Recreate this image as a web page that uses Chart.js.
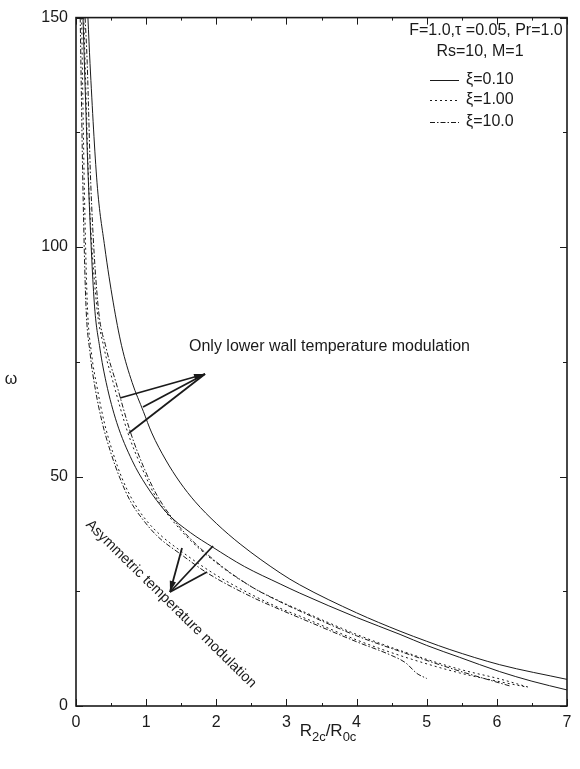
<!DOCTYPE html>
<html>
<head>
<meta charset="utf-8">
<script src="https://cdn.jsdelivr.net/npm/chart.js@4.4.1/dist/chart.umd.min.js"></script>
<style>
  html, body { margin: 0; padding: 0; background: #fff; }
  #wrap { width: 580px; height: 769px; }
</style>
</head>
<body>
<div id="wrap"><canvas id="omegaChart" width="580" height="769"></canvas></div>
<script>
// axis ticks
const xTicks = [0, 1, 2, 3, 4, 5, 6, 7];
const yTicks = [0, 50, 100, 150];

// only lower wall temperature modulation
const lowerSolidX = [0.17, 0.20, 0.30, 0.41, 0.53, 0.65, 0.80, 0.96, 1.08, 1.28, 1.48, 1.70, 2.00, 2.34, 2.91, 3.19, 4.00, 4.62, 5.00, 5.33, 6.04, 7.00];
const lowerSolidY = [150, 140, 114, 100, 88, 78.5, 70.5, 64.2, 59.5, 53.6, 48.8, 44.5, 39.8, 35.3, 29.0, 26.4, 20.3, 16.3, 14.1, 12.3, 9.0, 5.8];
const lowerDotX = [0.11, 0.13, 0.18, 0.29, 0.40, 0.53, 0.74, 0.95, 1.14, 1.50, 2.00, 2.50, 2.91, 3.19, 4.00, 4.62, 5.47, 6.04, 6.45];
const lowerDotY = [150, 140, 114, 88, 78, 70.5, 59.5, 51.5, 45.5, 38.2, 31.2, 26.0, 22.8, 20.9, 15.6, 12.1, 8.0, 5.9, 4.1];
const lowerDashDotX = [0.13, 0.16, 0.21, 0.31, 0.43, 0.57, 0.78, 0.98, 1.17, 1.50, 2.00, 2.50, 2.91, 3.19, 4.00, 4.62, 5.47, 6.20];
const lowerDashDotY = [150, 140, 114, 88, 78, 70.5, 59.5, 51.5, 45.5, 38.6, 31.4, 26.0, 22.7, 20.7, 15.3, 11.9, 7.6, 4.3];

// asymmetric temperature modulation
const asymSolidX = [0.10, 0.13, 0.18, 0.26, 0.34, 0.43, 0.58, 0.80, 1.00, 1.30, 1.63, 1.95, 2.40, 2.91, 3.19, 4.00, 4.62, 5.00, 5.47, 6.04, 6.50, 7.00];
const asymSolidY = [150, 135, 113, 88, 78, 70.5, 61.8, 53.5, 48.1, 42.0, 37.8, 34.6, 30.4, 26.6, 24.6, 19.3, 15.6, 13.2, 10.6, 7.5, 5.4, 3.5];
const asymDotX = [0.08, 0.10, 0.12, 0.16, 0.22, 0.30, 0.40, 0.52, 0.66, 0.82, 1.00, 1.20, 1.51, 2.00, 2.50, 2.91, 3.19, 4.00, 4.62, 5.47, 6.04, 6.40];
const asymDotY = [150, 130, 112, 88, 77, 69.5, 62, 55.5, 49.5, 44.5, 40.5, 37.3, 33.6, 28.5, 24.3, 21.3, 19.6, 14.4, 11.0, 7.2, 5.3, 4.2];
const asymDashDotX = [0.06, 0.08, 0.10, 0.14, 0.20, 0.27, 0.37, 0.49, 0.63, 0.78, 0.96, 1.16, 1.50, 1.87, 2.50, 2.91, 3.19, 4.00, 4.50, 4.70, 4.86, 5.00];
const asymDashDotY = [150, 130, 112, 88, 77, 69.5, 62, 55.5, 49.5, 44.5, 40.5, 37.0, 33.0, 29.0, 23.8, 21.0, 19.2, 14.0, 11.0, 9.4, 7.1, 6.0];

const legendLabels = ['\u03BE=0.10', '\u03BE=1.00', '\u03BE=10.0'];

const SOLID = [];
const DOTTED = [2, 3];
const DASHDOT = [5, 2, 1.5, 2];
const INK = '#1a1a1a';
const FONT = '"Liberation Sans", Arial, Helvetica, sans-serif';

function pts(xs, ys) {
  return xs.map((x, i) => ({ x: x, y: ys[i] }));
}

function curve(xs, ys, dash) {
  return {
    data: pts(xs, ys),
    showLine: true,
    borderColor: INK,
    borderWidth: 1,
    borderDash: dash,
    pointRadius: 0,
    cubicInterpolationMode: 'monotone',
    fill: false,
  };
}

function arrowHead(ctx, fx, fy, tx, ty) {
  const a = Math.atan2(ty - fy, tx - fx);
  const len = 11, w = 3.2;
  ctx.beginPath();
  ctx.moveTo(tx, ty);
  ctx.lineTo(tx - len * Math.cos(a) + w * Math.sin(a), ty - len * Math.sin(a) - w * Math.cos(a));
  ctx.lineTo(tx - len * Math.cos(a) - w * Math.sin(a), ty - len * Math.sin(a) + w * Math.cos(a));
  ctx.closePath();
  ctx.fill();
}

function arrowBundle(ctx, tip, tails) {
  ctx.lineWidth = 1.8;
  tails.forEach(t => {
    ctx.beginPath();
    ctx.moveTo(t[0], t[1]);
    ctx.lineTo(tip[0], tip[1]);
    ctx.stroke();
  });
  arrowHead(ctx, tails[0][0], tails[0][1], tip[0], tip[1]);
}

// frame, inward ticks, titles, key and annotations
const decorations = {
  id: 'decorations',
  afterDraw(chart) {
    const ctx = chart.ctx;
    const a = chart.chartArea;
    const xs = chart.scales.x, ys = chart.scales.y;
    ctx.save();
    ctx.strokeStyle = INK;
    ctx.fillStyle = INK;
    ctx.setLineDash([]);

    ctx.lineWidth = 1.6;
    ctx.strokeRect(a.left, a.top, a.right - a.left, a.bottom - a.top);

    ctx.lineWidth = 1;
    ctx.beginPath();
    for (let v = 0; v <= 7; v += 0.5) {
      const px = Math.round(xs.getPixelForValue(v)) + 0.5;
      const len = Number.isInteger(v) ? 7 : 3;
      ctx.moveTo(px, a.bottom); ctx.lineTo(px, a.bottom - len);
      ctx.moveTo(px, a.top); ctx.lineTo(px, a.top + len);
    }
    for (let v = 0; v <= 150; v += 25) {
      const py = Math.round(ys.getPixelForValue(v)) + 0.5;
      const len = v % 50 === 0 ? 7 : 4;
      ctx.moveTo(a.left, py); ctx.lineTo(a.left + len, py);
      ctx.moveTo(a.right, py); ctx.lineTo(a.right - len, py);
    }
    ctx.stroke();

    // axis titles
    ctx.textBaseline = 'alphabetic';
    ctx.textAlign = 'left';
    const big = '17px ' + FONT, small = '13px ' + FONT;
    const parts = [['R', big, 0], ['2c', small, 5], ['/R', big, 0], ['0c', small, 5]];
    let w = 0;
    parts.forEach(p => { ctx.font = p[1]; w += ctx.measureText(p[0]).width; });
    let cx = 328 - w / 2;
    parts.forEach(p => {
      ctx.font = p[1];
      ctx.fillText(p[0], cx, 736 + p[2]);
      cx += ctx.measureText(p[0]).width;
    });
    ctx.font = '16px ' + FONT;
    ctx.textAlign = 'center';
    ctx.fillText('\u03C9', 11, 384);

    // parameter block and line key
    ctx.font = '16px ' + FONT;
    ctx.textBaseline = 'middle';
    ctx.fillText('F=1.0,\u03C4 =0.05, Pr=1.0', 486, 31);
    ctx.fillText('Rs=10, M=1', 480, 52);
    const dashes = [SOLID, DOTTED, DASHDOT];
    const rows = [80, 100, 122];
    ctx.textAlign = 'left';
    rows.forEach((ry, i) => {
      ctx.lineWidth = 1;
      ctx.setLineDash(dashes[i]);
      ctx.beginPath();
      ctx.moveTo(430, ry + 0.5);
      ctx.lineTo(459, ry + 0.5);
      ctx.stroke();
      ctx.setLineDash([]);
      ctx.fillText(legendLabels[i], 466, ry);
    });

    // annotations
    ctx.font = '16px ' + FONT;
    ctx.textAlign = 'left';
    ctx.fillText('Only lower wall temperature modulation', 189, 347);
    arrowBundle(ctx, [205, 374], [[120, 398], [143, 407], [129, 433]]);

    arrowBundle(ctx, [170, 592], [[182, 548], [213, 546], [207, 572]]);
    ctx.save();
    ctx.translate(171, 604);
    ctx.rotate(44.5 * Math.PI / 180);
    ctx.font = '14.5px ' + FONT;
    ctx.textAlign = 'center';
    ctx.fillText('Asymmetric temperature modulation', 0, 0);
    ctx.restore();

    ctx.restore();
  }
};

new Chart(document.getElementById('omegaChart'), {
  type: 'scatter',
  data: {
    datasets: [
      curve(lowerSolidX, lowerSolidY, SOLID),
      curve(lowerDotX, lowerDotY, DOTTED),
      curve(lowerDashDotX, lowerDashDotY, DASHDOT),
      curve(asymSolidX, asymSolidY, SOLID),
      curve(asymDotX, asymDotY, DOTTED),
      curve(asymDashDotX, asymDashDotY, DASHDOT),
    ],
  },
  options: {
    responsive: false,
    animation: false,
    devicePixelRatio: 1,
    layout: { padding: { top: 12, right: 13, left: 0, bottom: 0 } },
    plugins: {
      legend: { display: false },
      tooltip: { enabled: false },
    },
    scales: {
      x: {
        type: 'linear',
        min: xTicks[0],
        max: xTicks[xTicks.length - 1],
        afterBuildTicks: s => { s.ticks = xTicks.map(v => ({ value: v })); },
        afterFit: s => { s.height = 63; },
        grid: { display: false, drawTicks: false },
        border: { display: false },
        ticks: { color: INK, padding: 7, font: { family: FONT, size: 16 } },
      },
      y: {
        type: 'linear',
        min: yTicks[0],
        max: yTicks[yTicks.length - 1],
        afterBuildTicks: s => { s.ticks = yTicks.map(v => ({ value: v })); },
        afterFit: s => { s.width = 76; },
        grid: { display: false, drawTicks: false },
        border: { display: false },
        ticks: { color: INK, padding: 8, font: { family: FONT, size: 16 } },
      },
    },
  },
  plugins: [decorations],
});
</script>
</body>
</html>
